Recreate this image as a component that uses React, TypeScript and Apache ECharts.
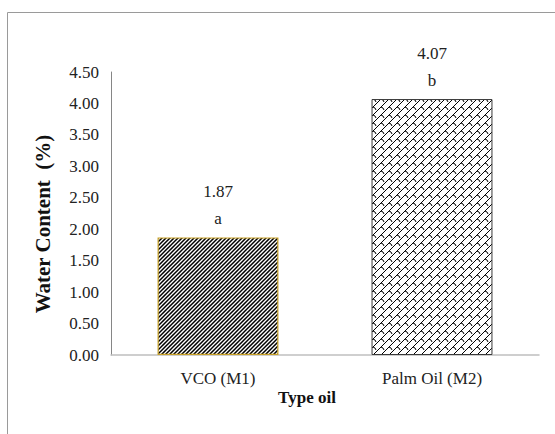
import React, { useEffect, useRef } from "react";
import * as echarts from "echarts";

// Oil samples and their measured water content (%)
const categories = ["VCO (M1)", "Palm Oil (M2)"];
const waterContent = [1.87, 4.07];
const significance = ["a", "b"];

// Value axis range
const yMin = 0;
const yMax = 4.5;
const yStep = 0.5;

const SERIF = "Times New Roman";

// Dense diagonal hatch ("////") tile
function makeStripeTile(): HTMLCanvasElement {
  const c = document.createElement("canvas");
  c.width = 8;
  c.height = 8;
  const ctx = c.getContext("2d")!;
  ctx.fillStyle = "#ffffff";
  ctx.fillRect(0, 0, 8, 8);
  ctx.strokeStyle = "#000000";
  ctx.lineWidth = 1.5;
  for (const o of [-12, -8, -4, 0, 4, 8, 12]) {
    ctx.beginPath();
    ctx.moveTo(o - 1, 9);
    ctx.lineTo(o + 9, -1);
    ctx.stroke();
  }
  return c;
}

// Shingle-like tile: diagonal lines joined by short curved ribs
function makeShingleTile(): HTMLCanvasElement {
  const c = document.createElement("canvas");
  c.width = 8;
  c.height = 8;
  const ctx = c.getContext("2d")!;
  ctx.fillStyle = "#ffffff";
  ctx.fillRect(0, 0, 8, 8);
  ctx.strokeStyle = "#000000";
  ctx.lineWidth = 1;
  const diag = (o: number) => {
    ctx.beginPath();
    ctx.moveTo(o - 1, 9);
    ctx.lineTo(o + 9, -1);
    ctx.stroke();
  };
  diag(-8);
  diag(0);
  diag(8);
  // short rib bridging to the next diagonal
  ctx.beginPath();
  ctx.moveTo(5, 3);
  ctx.quadraticCurveTo(7.5, 3.5, 8, 6);
  ctx.stroke();
  ctx.beginPath();
  ctx.moveTo(-3, 3);
  ctx.quadraticCurveTo(-0.5, 3.5, 0, 6);
  ctx.stroke();
  return c;
}

export default function App() {
  const ref = useRef<HTMLDivElement>(null);

  useEffect(() => {
    if (!ref.current) return;
    const chart = echarts.init(ref.current, null, { renderer: "svg" });

    const barStyles = [
      {
        color: { image: makeStripeTile(), repeat: "repeat", imageWidth: 8, imageHeight: 8 },
        borderColor: "#C9A227",
        borderWidth: 1.2,
      },
      {
        color: { image: makeShingleTile(), repeat: "repeat", imageWidth: 8, imageHeight: 8 },
        borderColor: "#3a3a3a",
        borderWidth: 1,
      },
    ];

    chart.setOption({
      animation: false,
      backgroundColor: "#ffffff",
      grid: { left: 111, right: 16, top: 72, bottom: 79 },
      xAxis: {
        type: "category",
        data: categories,
        axisLine: { show: true, lineStyle: { color: "#BFBFBF", width: 1.5 } },
        axisTick: { show: false },
        axisLabel: {
          margin: 15,
          color: "#222222",
          fontSize: 17,
          fontFamily: SERIF,
        },
      },
      yAxis: {
        type: "value",
        min: yMin,
        max: yMax,
        interval: yStep,
        axisLine: { show: true, lineStyle: { color: "#868686", width: 1 } },
        axisTick: { show: false },
        splitLine: { show: false },
        axisLabel: {
          margin: 12,
          color: "#222222",
          fontSize: 17,
          fontFamily: SERIF,
          formatter: (v: number) => v.toFixed(2),
        },
      },
      series: [
        {
          type: "bar",
          barWidth: "56.5%",
          data: waterContent.map((v, i) => ({ value: v, itemStyle: barStyles[i] })),
          label: {
            show: true,
            position: "top",
            distance: 5,
            color: "#222222",
            fontSize: 17,
            lineHeight: 27,
            fontFamily: SERIF,
            formatter: (p: any) =>
              `${waterContent[p.dataIndex].toFixed(2)}\n${significance[p.dataIndex]}`,
          },
        },
      ],
      graphic: [
        {
          type: "rect",
          silent: true,
          shape: { x: 7.5, y: 12.5, width: 700, height: 600 },
          style: { fill: "none", stroke: "#9a9a9a", lineWidth: 1 },
        },
        {
          type: "text",
          x: 43,
          y: 224,
          rotation: Math.PI / 2,
          style: {
            text: "Water Content  (%)",
            fontFamily: SERIF,
            fontWeight: "bold",
            fontSize: 21,
            fill: "#111111",
            align: "center",
            verticalAlign: "middle",
          },
        },
        {
          type: "text",
          x: 307,
          y: 397,
          style: {
            text: "Type oil",
            fontFamily: SERIF,
            fontWeight: "bold",
            fontSize: 17,
            fill: "#111111",
            align: "center",
            verticalAlign: "middle",
          },
        },
      ],
    });

    return () => chart.dispose();
  }, []);

  return (
    <div
      ref={ref}
      style={{ position: "fixed", left: 0, top: 0, width: 555, height: 434 }}
    />
  );
}
